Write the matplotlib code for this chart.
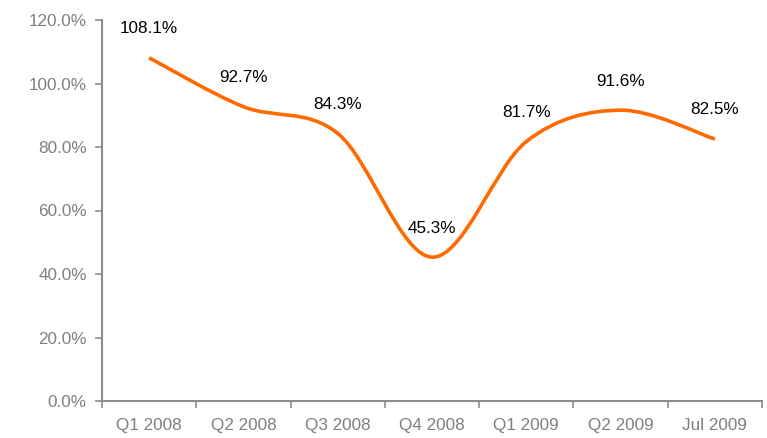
import numpy as np
import matplotlib
matplotlib.use('Agg')
import matplotlib.pyplot as plt
from matplotlib.path import Path
from matplotlib.patches import PathPatch

plt.rcParams['font.family'] = ['Liberation Sans', 'DejaVu Sans']

# 資料
categories = ['Q1 2008', 'Q2 2008', 'Q3 2008', 'Q4 2008', 'Q1 2009', 'Q2 2009', 'Jul 2009']
values = [108.1, 92.7, 84.3, 45.3, 81.7, 91.6, 82.5]
yticks = [0, 20, 40, 60, 80, 100, 120]

line_color = '#FF6A00'
axis_color = '#8C8C8C'
fs = 12.3

fig = plt.figure(figsize=(7.67, 4.38), dpi=100)
ax = fig.add_axes([102 / 767, 37 / 438, 660 / 767, 381 / 438])

x = np.arange(len(values))
y = np.array(values, dtype=float)

# 平滑曲線 (Catmull-Rom -> Bezier)
verts = [(x[0], y[0])]
codes = [Path.MOVETO]
n = len(x)
for i in range(n - 1):
    p0 = (x[max(i - 1, 0)], y[max(i - 1, 0)])
    p1 = (x[i], y[i])
    p2 = (x[i + 1], y[i + 1])
    p3 = (x[min(i + 2, n - 1)], y[min(i + 2, n - 1)])
    c1 = (p1[0] + (p2[0] - p0[0]) / 6, p1[1] + (p2[1] - p0[1]) / 6)
    c2 = (p2[0] - (p3[0] - p1[0]) / 6, p2[1] - (p3[1] - p1[1]) / 6)
    verts += [c1, c2, p2]
    codes += [Path.CURVE4] * 3
ax.add_patch(PathPatch(Path(verts, codes), facecolor='none', edgecolor=line_color,
                       lw=2.6, capstyle='butt', joinstyle='round'))

for xi, v in zip(x, values):
    ax.annotate('%.1f%%' % v, (xi, v), xytext=(0, 21), textcoords='offset points',
                ha='center', va='center', fontsize=fs, color='#000000')

ax.set_xlim(-0.5, len(values) - 0.5)
ax.set_ylim(0, 120)
ax.set_yticks(yticks)
ax.set_yticklabels(['%.1f%%' % t for t in yticks])

ax.set_xticks(np.arange(len(values) + 1) - 0.5)
ax.set_xticklabels([])
ax.set_xticks(x, minor=True)
ax.set_xticklabels(categories, minor=True)
ax.tick_params(axis='x', which='minor', length=0, pad=12)
ax.tick_params(axis='x', which='major', length=5, width=1.2, color=axis_color, direction='out')
ax.tick_params(axis='y', length=5, width=1.2, color=axis_color, direction='out', pad=6)
ax.tick_params(axis='both', which='both', labelsize=fs, labelcolor='#7F7F7F')

for s in ['top', 'right']:
    ax.spines[s].set_visible(False)
for s in ['left', 'bottom']:
    ax.spines[s].set_color(axis_color)
    ax.spines[s].set_linewidth(1.5)

plt.savefig('out.png', dpi=100)
